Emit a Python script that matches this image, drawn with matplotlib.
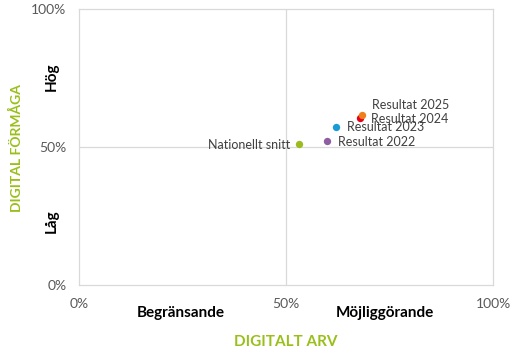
import matplotlib.pyplot as plt

# data (share 0-1)
names = ['Nationellt snitt', 'Resultat 2022', 'Resultat 2023', 'Resultat 2024', 'Resultat 2025']
arv = [0.531, 0.598, 0.620, 0.679, 0.684]
formaga = [0.511, 0.522, 0.571, 0.605, 0.617]
colors = ['#9BBB1E', '#8E5EA2', '#1A9BD7', '#E2001A', '#F07F1A']
# label offsets in pixels from the point
offsets = [(-9, -1), (11, -1), (11, 0), (11, -1), (10, 10)]

tick_vals = [0, 0.5, 1]
tick_labels = ['0%', '50%', '100%']

plt.rcParams['font.family'] = ['Lato', 'DejaVu Sans']

fig = plt.figure(figsize=(5.2, 3.6), dpi=100)
ax = fig.add_axes([79 / 520, 75 / 360, 414 / 520, 276 / 360])

for n, x, y, c, off in zip(names, arv, formaga, colors, offsets):
    ax.scatter(x, y, s=28, color=c, zorder=3, linewidths=0)
    ha = 'right' if off[0] < 0 else 'left'
    ax.annotate(n, (x, y), xytext=(off[0] * 0.72, off[1] * 0.72),
                textcoords='offset points', ha=ha, va='center',
                fontsize=9, color='#404040')

ax.set_xlim(0, 1)
ax.set_ylim(0, 1)
ax.set_xticks(tick_vals)
ax.set_xticklabels(tick_labels)
ax.set_yticks(tick_vals)
ax.set_yticklabels(tick_labels)
ax.tick_params(length=0, labelsize=10, labelcolor='#595959')
ax.tick_params(axis='x', pad=9)
ax.tick_params(axis='y', pad=9)
ax.axvline(0.5, color='#D9D9D9', lw=0.9, zorder=1)
ax.axhline(0.5, color='#D9D9D9', lw=0.9, zorder=1)
for s in ax.spines.values():
    s.set_color('#D9D9D9')
    s.set_linewidth(0.9)

# category labels
ax.text(0.245, -0.10, 'Begränsande', transform=ax.transAxes, ha='center', va='center',
        fontsize=11, fontweight='bold', color='black')
ax.text(0.738, -0.10, 'Möjliggörande', transform=ax.transAxes, ha='center', va='center',
        fontsize=11, fontweight='bold', color='black')
ax.text(-0.065, 0.755, 'Hög', transform=ax.transAxes, ha='center', va='center',
        rotation=90, fontsize=11, fontweight='bold', color='black')
ax.text(-0.065, 0.23, 'Låg', transform=ax.transAxes, ha='center', va='center',
        rotation=90, fontsize=11, fontweight='bold', color='black')

# axis titles
ax.text(0.5, -0.205, 'DIGITALT ARV', transform=ax.transAxes, ha='center', va='center',
        fontsize=11, fontweight='bold', color='#99BF1A')
ax.text(-0.15, 0.495, 'DIGITAL FÖRMÅGA', transform=ax.transAxes, ha='center', va='center',
        rotation=90, fontsize=10, fontweight='bold', color='#99BF1A')

fig.savefig('out.png', dpi=100)
